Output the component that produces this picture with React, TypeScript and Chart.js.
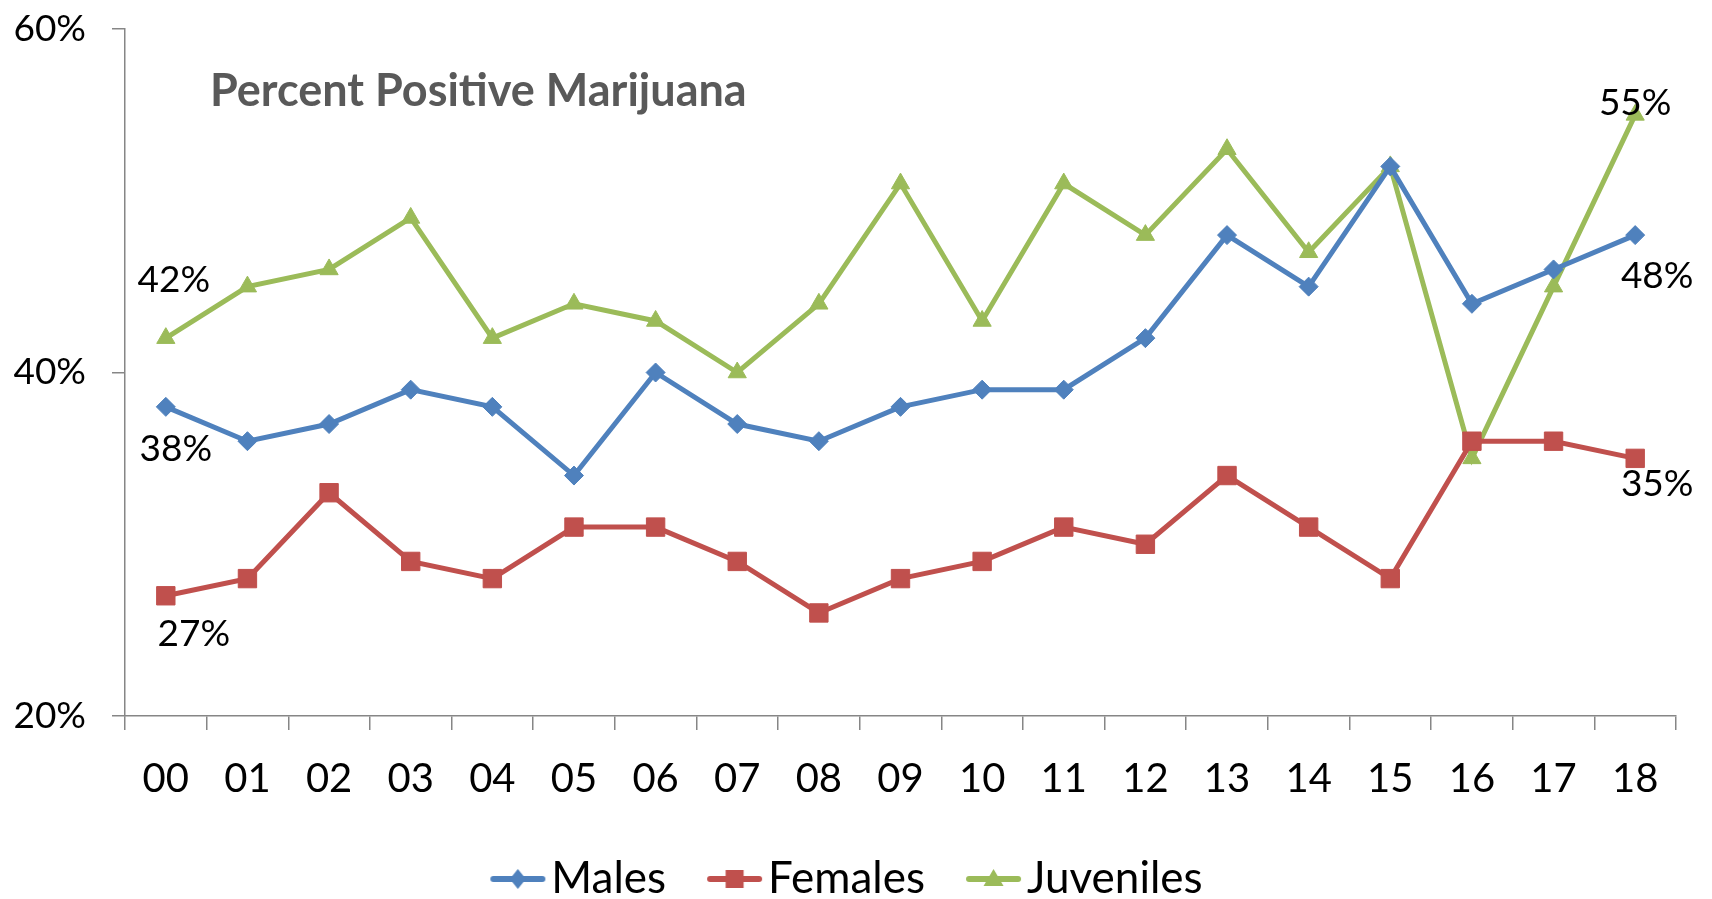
import React, { useEffect, useRef } from "react";
import { Chart, registerables } from "chart.js";

Chart.register(...registerables);

const years = ["00", "01", "02", "03", "04", "05", "06", "07", "08", "09", "10", "11", "12", "13", "14", "15", "16", "17", "18"];
const males = [38, 36, 37, 39, 38, 34, 40, 37, 36, 38, 39, 39, 42, 48, 45, 52, 44, 46, 48];
const females = [27, 28, 33, 29, 28, 31, 31, 29, 26, 28, 29, 31, 30, 34, 31, 28, 36, 36, 35];
const juveniles = [42, 45, 46, 49, 42, 44, 43, 40, 44, 51, 43, 51, 48, 53, 47, 52, 35, 45, 55];
const yTicks = [20, 40, 60];
const chartTitle = "Percent Positive Marijuana";

const FONT = "Lato, 'Open Sans', sans-serif";
const BLUE = "#4F81BD";
const RED = "#C0504D";
const GREEN = "#9BBB59";
const AXIS = "#868686";

// label placement (dataset index, point index, offsets in px)
const labelSpots = [
  { ds: 2, i: 0, dx: 8, dy: -58 },
  { ds: 0, i: 0, dx: 10, dy: 42 },
  { ds: 1, i: 0, dx: 28, dy: 38 },
  { ds: 2, i: 18, dx: 0, dy: -12 },
  { ds: 0, i: 18, dx: 22, dy: 41 },
  { ds: 1, i: 18, dx: 22, dy: 26 },
];

const LEG_FONT = 44;
const LEG_BOX = 80;

function legendIcon(color: string, style: string): HTMLCanvasElement {
  const c = document.createElement("canvas");
  const W = LEG_BOX + 34, H = 30;
  c.width = W;
  c.height = H;
  const ctx = c.getContext("2d")!;
  const x0 = W - 56, x1 = W - 1, cy = H / 2, cx = (x0 + x1) / 2;
  ctx.strokeStyle = color;
  ctx.fillStyle = color;
  ctx.lineWidth = 6;
  ctx.lineCap = "round";
  ctx.beginPath();
  ctx.moveTo(x0 + 3, cy);
  ctx.lineTo(x1 - 3, cy);
  ctx.stroke();
  ctx.beginPath();
  if (style === "diamond") {
    ctx.moveTo(cx, cy - 10); ctx.lineTo(cx + 8, cy); ctx.lineTo(cx, cy + 10); ctx.lineTo(cx - 8, cy);
  } else if (style === "square") {
    ctx.rect(cx - 9, cy - 9, 18, 18);
  } else {
    ctx.moveTo(cx, cy - 10); ctx.lineTo(cx + 10, cy + 7); ctx.lineTo(cx - 10, cy + 7);
  }
  ctx.closePath();
  ctx.fill();
  return c;
}

export default function App() {
  const ref = useRef<HTMLCanvasElement | null>(null);

  useEffect(() => {
    if (!ref.current) return;
    const icons = [legendIcon(BLUE, "diamond"), legendIcon(RED, "square"), legendIcon(GREEN, "triangle")];

    const titlePlugin = {
      id: "innerTitle",
      afterDraw(chart: any) {
        const ctx = chart.ctx;
        ctx.save();
        ctx.font = `bold 45px ${FONT}`;
        ctx.fillStyle = "#595959";
        ctx.textAlign = "left";
        ctx.textBaseline = "alphabetic";
        ctx.fillText(chartTitle, chart.chartArea.left + 85, 106);
        ctx.restore();
      },
    };

    const labelPlugin = {
      id: "pointLabels",
      afterDatasetsDraw(chart: any) {
        const ctx = chart.ctx;
        ctx.save();
        ctx.font = `37px ${FONT}`;
        ctx.fillStyle = "#000";
        ctx.textAlign = "center";
        ctx.textBaseline = "middle";
        for (const s of labelSpots) {
          const el = chart.getDatasetMeta(s.ds).data[s.i];
          const v = chart.data.datasets[s.ds].data[s.i];
          ctx.fillText(`${v}%`, el.x + s.dx, el.y + s.dy);
        }
        ctx.restore();
      },
    };

    const chart = new Chart(ref.current, {
      type: "line",
      data: {
        labels: years,
        datasets: [
          { label: "Males", data: males, borderColor: BLUE, backgroundColor: BLUE, borderWidth: 5, pointStyle: "rectRot", pointRadius: 9.5, pointBorderWidth: 1, pointBackgroundColor: BLUE, pointBorderColor: BLUE, tension: 0 },
          { label: "Females", data: females, borderColor: RED, backgroundColor: RED, borderWidth: 5, pointStyle: "rect", pointRadius: 13, pointBorderWidth: 1, pointBackgroundColor: RED, pointBorderColor: RED, tension: 0 },
          { label: "Juveniles", data: juveniles, borderColor: GREEN, backgroundColor: GREEN, borderWidth: 5, pointStyle: "triangle", pointRadius: 10.5, pointBorderWidth: 1, pointBackgroundColor: GREEN, pointBorderColor: GREEN, tension: 0 },
        ],
      },
      options: {
        responsive: false,
        animation: false,
        layout: { padding: { left: -24, right: 36, top: 29, bottom: -12 } },
        scales: {
          x: {
            type: "category",
            offset: true,
            grid: { offset: true, drawOnChartArea: false, drawTicks: true, tickLength: 14, color: AXIS, lineWidth: 1.5 },
            border: { display: true, color: AXIS, width: 1.5 },
            ticks: { color: "#000", font: { family: FONT, size: 40 }, padding: 25, maxRotation: 0, autoSkip: false },
            afterFit(scale: any) { scale.height = 141; },
          },
          y: {
            min: 20,
            max: 60,
            afterBuildTicks(scale: any) { scale.ticks = yTicks.map((v) => ({ value: v })); },
            grid: { drawOnChartArea: false, drawTicks: true, tickLength: 13, color: AXIS, lineWidth: 1.5 },
            border: { display: true, color: AXIS, width: 1.5 },
            ticks: { color: "#000", font: { family: FONT, size: 37 }, padding: 26, callback: (v: any) => `${v}%` },
            afterFit(scale: any) {
              scale.width = 149;
              scale.paddingTop = 0;
              scale.paddingBottom = 0;
            },
          },
        },
        plugins: {
          title: { display: false },
          tooltip: { enabled: false },
          legend: {
            position: "bottom",
            labels: {
              color: "#000",
              font: { family: FONT, size: LEG_FONT, lineHeight: 1 },
              padding: 0,
              usePointStyle: true,
              pointStyleWidth: LEG_BOX,
              generateLabels: (chart: any) =>
                chart.data.datasets.map((d: any, i: number) => ({
                  text: d.label,
                  fillStyle: d.borderColor,
                  strokeStyle: d.borderColor,
                  lineWidth: 0,
                  pointStyle: icons[i],
                  datasetIndex: i,
                  hidden: false,
                  fontColor: "#000",
                })),
            },
          },
        },
      },
      plugins: [titlePlugin, labelPlugin],
    } as any);

    return () => chart.destroy();
  }, []);

  return (
    <div style={{ position: "absolute", left: 0, top: 0, width: 1712, height: 899, background: "#fff" }}>
      <canvas ref={ref} width={1712} height={899} style={{ display: "block" }} />
    </div>
  );
}
